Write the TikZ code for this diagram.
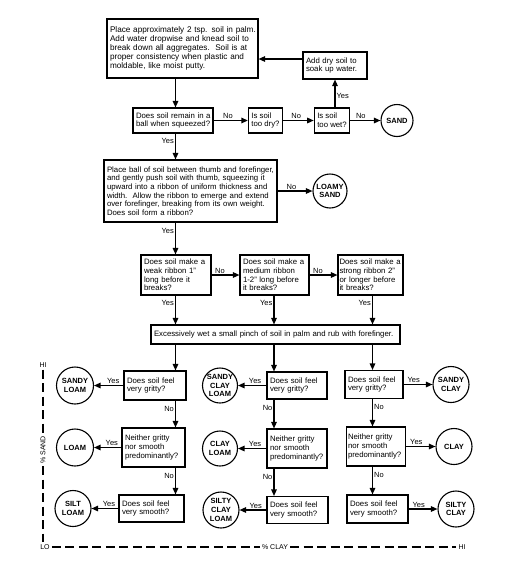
\documentclass[tikz,border=0pt]{standalone}
\usepackage{fontspec}
\setmainfont{Liberation Sans}
\usetikzlibrary{arrows.meta}
\newcommand{\lnx}[1]{\mbox{#1}}
\begin{document}
\begin{tikzpicture}[x=1pt,y=-1pt,
  every node/.style={font=\fontsize{7.8}{8.7}\selectfont},
  qbox/.style 2 args={draw, line width=1.1pt, text width=#1, inner xsep=3pt, inner ysep=1pt, minimum height=#2, align=left},
  sbox/.style={draw, line width=1.1pt, inner xsep=3pt, inner ysep=1pt, align=left},
  soil/.style 2 args={draw, circle, line width=1.1pt, minimum size=#1, inner sep=0pt, align=center, font=\fontsize{7.5}{8.8}\selectfont\bfseries},
  arr/.style={line width=1.3pt, -{Triangle[length=6.5pt,width=5.5pt]}},
  lbl/.style={font=\fontsize{7.5}{8}\selectfont, inner sep=1pt},
  axl/.style={font=\fontsize{7}{8}\selectfont, inner sep=2pt},
  axis/.style={line width=1.2pt, dash pattern=on 9pt off 4.5pt}
]
\useasboundingbox (0,0) rectangle (510,587);

% columns
\coordinate (c1) at (175.5,0);
\coordinate (c2) at (274,0);
\coordinate (c3) at (372.5,0);
\coordinate (cw) at (335,0);
\coordinate (dryy) at (0,59);

% top part
\node[qbox={145pt}{59pt}, font=\fontsize{8.2}{8.9}\selectfont] (b1) at (182.5,48.5) {\lnx{Place approximately 2 tsp. soil in palm.}\\\lnx{Add water dropwise and knead soil to}\\\lnx{break down all aggregates.\ \ Soil is at}\\\lnx{proper consistency when plastic and}\\\lnx{moldable, like moist putty.}};
\node[qbox={58pt}{27pt}] (dry) at (335,65.5) {\lnx{Add dry soil to}\\\lnx{soak up water.}};
\node[qbox={74pt}{25pt}] (remain) at (173,120.5) {\lnx{Does soil remain in a}\\\lnx{ball when squeezed?}};
\node[sbox, minimum width=29pt, minimum height=25pt] (dryQ) at (265.5,120.5) {Is soil\\too dry?};
\node[sbox, minimum width=30pt, minimum height=25pt] (wetQ) at (332,120.5) {Is soil\\too wet?};
\node[soil={32pt}{}] (sand) at (397,120.5) {SAND};

\node[qbox={167pt}{62pt}] (box3) at (190.5,191) {\lnx{Place ball of soil between thumb and forefinger,}\\\lnx{and gently push soil with thumb, squeezing it}\\\lnx{upward into a ribbon of uniform thickness and}\\\lnx{width.\ \ Allow the ribbon to emerge and extend}\\\lnx{over forefinger, breaking from its own weight.}\\\lnx{Does soil form a ribbon?}};
\node[soil={34pt}{}] (loamysand) at (330,191) {LOAMY\\SAND};

\node[qbox={64pt}{40pt}] (rA) at (176,275) {\lnx{Does soil make a}\\\lnx{weak ribbon 1"}\\\lnx{long before it}\\\lnx{breaks?}};
\node[qbox={63pt}{40pt}] (rB) at (274.5,275) {\lnx{Does soil make a}\\\lnx{medium ribbon}\\\lnx{1-2" long before}\\\lnx{it breaks?}};
\node[qbox={62pt}{40pt}, inner xsep=1.5pt] (rC) at (370.5,275) {\lnx{Does soil make a}\\\lnx{strong ribbon 2"}\\\lnx{or longer before}\\\lnx{it breaks?}};

\node[qbox={243pt}{19pt}] (wet) at (275.5,334.5) {\lnx{Excessively wet a small pinch of soil in palm and rub with forefinger.}};

% row 1
\node[qbox={56pt}{29pt}] (g1) at (155,385.5) {\lnx{Does soil feel}\\\lnx{very gritty?}};
\node[qbox={54pt}{27pt}] (g2) at (297,385.5) {\lnx{Does soil feel}\\\lnx{very gritty?}};
\node[qbox={52pt}{28pt}] (g3) at (374,384.5) {\lnx{Does soil feel}\\\lnx{very gritty?}};
% row 2
\node[qbox={57pt}{39pt}] (n1) at (153.5,447.5) {\lnx{Neither gritty}\\\lnx{nor smooth}\\\lnx{predominantly?}};
\node[qbox={54pt}{39pt}] (n2) at (297,448.5) {\lnx{Neither gritty}\\\lnx{nor smooth}\\\lnx{predominantly?}};
\node[qbox={56pt}{39pt}, inner xsep=1.5pt] (n3) at (376,446.5) {\lnx{Neither gritty}\\\lnx{nor smooth}\\\lnx{predominantly?}};
% row 3
\node[qbox={59pt}{27pt}] (s1) at (151.5,508.5) {\lnx{Does soil feel}\\\lnx{very smooth?}};
\node[qbox={55pt}{27pt}] (s2) at (297.5,510) {\lnx{Does soil feel}\\\lnx{very smooth?}};
\node[qbox={55pt}{28pt}] (s3) at (377.5,509) {\lnx{Does soil feel}\\\lnx{very smooth?}};

% soil circles
\node[soil={37pt}{}] (sandyloam) at (75,385.5) {SANDY\\LOAM};
\node[soil={37pt}{}] (loam) at (75,447.5) {LOAM};
\node[soil={36pt}{}] (siltloam) at (73,508.5) {SILT\\LOAM};
\node[soil={35pt}{}] (scl) at (220,385.5) {SANDY\\CLAY\\LOAM};
\node[soil={35pt}{}] (clayloam) at (220,448.5) {CLAY\\LOAM};
\node[soil={36pt}{}] (sicl) at (221,510) {SILTY\\CLAY\\LOAM};
\node[soil={36pt}{}] (sandyclay) at (451,384.5) {SANDY\\CLAY};
\node[soil={36pt}{}] (clay) at (454,446.5) {CLAY};
\node[soil={36pt}{}] (siltyclay) at (456,509) {SILTY\\CLAY};

% connectors top
\draw[arr] (b1.south -| c1) -- (remain.north -| c1);
\draw[arr] (remain) -- node[lbl,above,pos=0.42]{No} (dryQ);
\draw[arr] (dryQ) -- node[lbl,above,pos=0.43]{No} (wetQ);
\draw[arr] (wetQ) -- node[lbl,above,pos=0.35]{No} (sand);
\draw[arr] (wetQ.north -| cw) -- node[lbl,right,pos=0.4]{Yes} (dry.south -| cw);
\draw[arr] (dry.west |- dryy) -- (b1.east |- dryy);
\draw[arr] (remain.south -| c1) -- node[lbl,left,pos=0.3]{Yes} (box3.north -| c1);
\draw[arr] (box3) -- node[lbl,above,pos=0.4]{No} (loamysand);
\draw[arr] (box3.south -| c1) -- node[lbl,left,pos=0.27]{Yes} (rA.north -| c1);
\draw[arr] (rA) -- node[lbl,above,pos=0.3]{No} (rB);
\draw[arr] (rB) -- node[lbl,above,pos=0.3]{No} (rC);
\draw[arr] (rA.south -| c1) -- node[lbl,left,pos=0.25]{Yes} (wet.north -| c1);
\draw[arr] (rB.south -| c2) -- node[lbl,left,pos=0.25]{Yes} (wet.north -| c2);
\draw[arr] (rC.south -| c3) -- node[lbl,left,pos=0.25]{Yes} (wet.north -| c3);
\draw[arr] (wet.south -| c1) -- (g1.north -| c1);
\draw[arr] (wet.south -| c2) -- (g2.north -| c2);
\draw[arr] (wet.south -| c3) -- (g3.north -| c3);

% columns
\draw[arr] (g1.south -| c1) -- node[lbl,left,pos=0.3]{No} (n1.north -| c1);
\draw[arr] (n1.south -| c1) -- node[lbl,left,pos=0.3]{No} (s1.north -| c1);
\draw[arr] (g2.south -| c2) -- node[lbl,left,pos=0.3]{No} (n2.north -| c2);
\draw[arr] (n2.south -| c2) -- node[lbl,left,pos=0.3]{No} (s2.north -| c2);
\draw[arr] (g3.south -| c3) -- node[lbl,right,pos=0.3]{No} (n3.north -| c3);
\draw[arr] (n3.south -| c3) -- node[lbl,right,pos=0.3]{No} (s3.north -| c3);

% yes branches
\draw[arr] (g1) -- node[lbl,above,pos=0.35]{Yes} (sandyloam);
\draw[arr] (n1) -- node[lbl,above,pos=0.35]{Yes} (loam);
\draw[arr] (s1) -- node[lbl,above,pos=0.35]{Yes} (siltloam);
\draw[arr] (g2) -- node[lbl,above,pos=0.4]{Yes} (scl);
\draw[arr] (n2) -- node[lbl,above,pos=0.4]{Yes} (clayloam);
\draw[arr] (s2) -- node[lbl,above,pos=0.4]{Yes} (sicl);
\draw[arr] (g3) -- node[lbl,above,pos=0.35]{Yes} (sandyclay);
\draw[arr] (n3) -- node[lbl,above,pos=0.35]{Yes} (clay);
\draw[arr] (s3) -- node[lbl,above,pos=0.35]{Yes} (siltyclay);

% axes
\node[axl] (lo) at (45,547) {LO};
\node[axl] (hi) at (462,547) {HI};
\node[axl] (pclay) at (275,547) {\% CLAY};
\node[axl] (hisand) at (43,365) {HI};
\node[axl, rotate=90] (psand) at (43,450) {\% SAND};
\draw[axis] (lo) -- (pclay) -- (hi);
\draw[axis] (hisand) -- (psand) -- (psand |- lo.north);
\end{tikzpicture}
\end{document}
